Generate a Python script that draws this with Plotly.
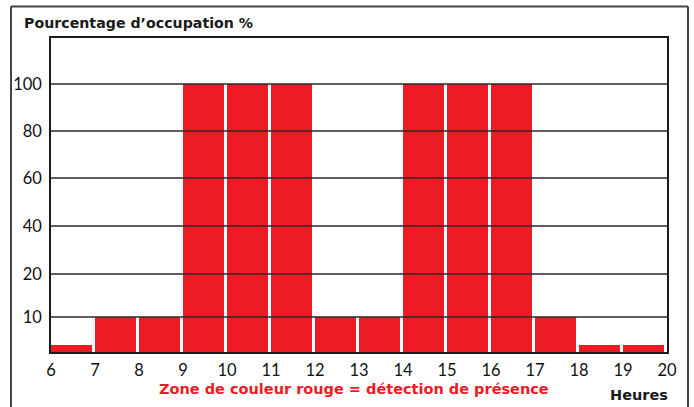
import numpy as np
import plotly.graph_objects as go

# ---- data ----
hours = list(range(6, 20))                      # start of each hourly slot
occupation = [2, 10, 10, 100, 100, 100, 10, 10, 100, 100, 100, 10, 2, 2]
y_tick_labels = [10, 20, 40, 60, 80, 100]
x_tick_labels = list(range(6, 21))

# ---- non-linear display scale of the original diagram ----
scale_vals = [0, 10, 20, 40, 60, 80, 100]
scale_pos = [0, 35, 78, 126, 174, 221, 268]


def to_axis(v):
    return np.interp(v, scale_vals, scale_pos)


RED = "#ED1C24"
DARK = "#2a2a2a"
FONT = "Lato"
BOLD = "DejaVu Sans"

fig = go.Figure()
fig.add_trace(go.Bar(
    x=hours, y=to_axis(occupation), offset=0, width=0.94,
    marker=dict(color=RED, line=dict(width=0)),
    hoverinfo="skip",
))

# gridlines drawn above the bars
shapes = []
for t in y_tick_labels:
    shapes.append(dict(type="line", xref="paper", yref="y", x0=0, x1=1,
                       y0=float(to_axis(t)), y1=float(to_axis(t)),
                       line=dict(color=DARK, width=1.6), layer="above"))

# outer frame (left, top, right)
L, R, T, B = 51, 667, 38, 352
W, H = R - L, B - T
def px(x): return (x - L) / W
def py(y): return (B - y) / H
fx0, fx1, fy0, fy1 = px(11), px(688), py(410), py(6.5)
for (x0, y0, x1, y1) in [(fx0, fy0, fx0, fy1), (fx0, fy1, fx1, fy1), (fx1, fy1, fx1, fy0)]:
    shapes.append(dict(type="line", xref="paper", yref="paper", x0=x0, y0=y0, x1=x1, y1=y1,
                       line=dict(color="#444", width=2), layer="above"))

tickfont = dict(family=FONT, size=16.5, color="#111")
fig.update_layout(
    width=694, height=407,
    margin=dict(l=L, r=694 - R, t=T, b=407 - B),
    paper_bgcolor="white", plot_bgcolor="white",
    showlegend=False, bargap=0,
    shapes=shapes,
    xaxis=dict(range=[6, 20], tickvals=x_tick_labels, ticktext=[str(v) for v in x_tick_labels],
               showgrid=False, zeroline=False, showline=True, linecolor="#1a1a1a", linewidth=2,
               mirror=True, ticks="", ticklabelstandoff=2, automargin=False,
               tickfont=tickfont),
    yaxis=dict(range=[0, H], tickvals=[float(v) for v in to_axis(y_tick_labels)],
               ticktext=[str(v) for v in y_tick_labels],
               showgrid=False, zeroline=False, showline=True, linecolor="#1a1a1a", linewidth=1.6,
               mirror=True, ticks="", ticklabelstandoff=4, automargin=False,
               tickfont=tickfont),
    annotations=[
        dict(text="<b>Pourcentage d’occupation %</b>", xref="paper", yref="paper",
             x=px(22), y=py(23), xanchor="left", yanchor="middle", showarrow=False,
             font=dict(family=BOLD, size=14.2, color="#1a1a1a")),
        dict(text="<b>Zone de couleur rouge = détection de présence</b>", xref="paper", yref="paper",
             x=px(354), y=py(389), xanchor="center", yanchor="middle", showarrow=False,
             font=dict(family=BOLD, size=14.5, color=RED)),
        dict(text="<b>Heures</b>", xref="paper", yref="paper",
             x=px(670), y=py(395), xanchor="right", yanchor="middle", showarrow=False,
             font=dict(family=BOLD, size=14.5, color="#1a1a1a")),
    ],
)

fig.write_html("out.html", config={"displayModeBar": False},
               post_script="document.body.style.margin='0';document.body.style.padding='0';"
                           "document.body.style.overflow='hidden';")
